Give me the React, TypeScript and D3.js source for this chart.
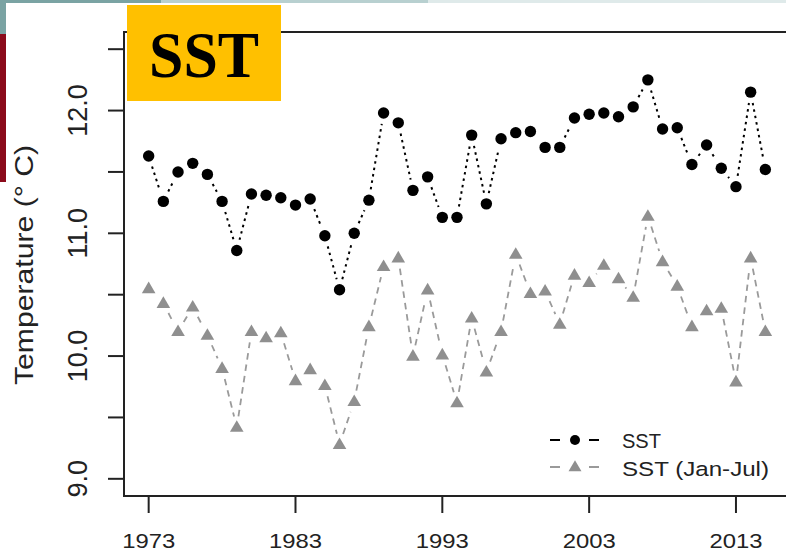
import React from 'react';
import * as d3 from 'd3';

const years = [
  1973, 1974, 1975, 1976, 1977, 1978, 1979, 1980, 1981, 1982,
  1983, 1984, 1985, 1986, 1987, 1988, 1989, 1990, 1991, 1992,
  1993, 1994, 1995, 1996, 1997, 1998, 1999, 2000, 2001, 2002,
  2003, 2004, 2005, 2006, 2007, 2008, 2009, 2010, 2011, 2012,
  2013, 2014, 2015,
];

const sst = [
  11.63, 11.26, 11.5, 11.57, 11.48, 11.26, 10.86, 11.32, 11.31, 11.29,
  11.23, 11.28, 10.98, 10.54, 11.0, 11.27, 11.98, 11.9, 11.35, 11.46,
  11.13, 11.13, 11.8, 11.24, 11.77, 11.82, 11.83, 11.7, 11.7, 11.94,
  11.97, 11.98, 11.95, 12.03, 12.25, 11.85, 11.86, 11.56, 11.72, 11.53,
  11.38, 12.15, 11.52,
];

const sstJanJul = [
  10.55, 10.43, 10.2, 10.4, 10.17, 9.9, 9.42, 10.2, 10.15, 10.19,
  9.8, 9.89, 9.76, 9.28, 9.63, 10.24, 10.73, 10.8, 10.0, 10.54,
  10.01, 9.62, 10.31, 9.87, 10.2, 10.83, 10.51, 10.53, 10.26, 10.66,
  10.6, 10.74, 10.63, 10.48, 11.14, 10.77, 10.57, 10.24, 10.37, 10.39,
  9.79, 10.8, 10.2,
];

const xTicks = [1973, 1983, 1993, 2003, 2013];
const yTicks = [9, 9.5, 10, 10.5, 11, 11.5, 12, 12.5];
const yLabelTicks = [9, 10, 11, 12];
const legendLabels = ['SST', 'SST (Jan-Jul)'];

const W = 786;
const H = 556;
const FONT = "'Liberation Sans', Arial, Helvetica, sans-serif";

const x = d3.scaleLinear().domain([1971.32, 2016.68]).range([124, 790]);
const y = d3.scaleLinear().domain([8.86, 12.64]).range([496, 32]);

function gappedSegments(vals: number[], gap: number): string {
  let d = '';
  for (let i = 0; i < vals.length - 1; i++) {
    const x1 = x(years[i]);
    const y1 = y(vals[i]);
    const x2 = x(years[i + 1]);
    const y2 = y(vals[i + 1]);
    const dx = x2 - x1;
    const dy = y2 - y1;
    const L = Math.hypot(dx, dy);
    if (L <= 2 * gap) continue;
    const ux = dx / L;
    const uy = dy / L;
    d += `M${x1 + ux * gap},${y1 + uy * gap}L${x2 - ux * gap},${y2 - uy * gap}`;
  }
  return d;
}

function tri(cx: number, cy: number, s = 1) {
  return `M${cx},${cy - 7 * s}L${cx + 6.8 * s},${cy + 4.6 * s}L${cx - 6.8 * s},${cy + 4.6 * s}Z`;
}

export default function App() {
  const axisColor = '#222';
  const grey = '#8f8f8f';
  return (
    <svg
      width={W}
      height={H}
      style={{ position: 'absolute', left: 0, top: 0, background: '#fff' }}
      xmlns="http://www.w3.org/2000/svg"
    >
      <rect x={0} y={0} width={W} height={H} fill="#fff" />
      {/* slide decoration */}
      <rect x={0} y={0} width={161} height={3} fill="#7aa3a3" />
      <rect x={161} y={0} width={267} height={3} fill="#b8d0d0" />
      <rect x={428} y={0} width={W - 428} height={3} fill="#dfeaea" />
      <rect x={0} y={0} width={6} height={34} fill="#7aa3a3" />
      <rect x={0} y={34} width={6} height={148} fill="#8b0b1b" />

      {/* plot frame */}
      <rect x={124} y={32} width={666} height={464} fill="none" stroke={axisColor} strokeWidth={2} />

      {/* y ticks */}
      {yTicks.map((t) => (
        <line key={t} x1={108} x2={124} y1={y(t)} y2={y(t)} stroke={axisColor} strokeWidth={2} />
      ))}
      {yLabelTicks.map((t) => (
        <text
          key={t}
          transform={`translate(87,${y(t)}) rotate(-90)`}
          textAnchor="middle"
          fontFamily={FONT}
          fontSize={27}
          fill="#222"
        >
          {t.toFixed(1)}
        </text>
      ))}
      <text
        transform={`translate(33,265) rotate(-90)`}
        textAnchor="middle"
        fontFamily={FONT}
        fontSize={25}
        fill="#222"
        textLength={240}
        lengthAdjust="spacingAndGlyphs"
      >
        Temperature (° C)
      </text>

      {/* x ticks */}
      {xTicks.map((t) => (
        <g key={t}>
          <line x1={x(t)} x2={x(t)} y1={496} y2={513} stroke={axisColor} strokeWidth={2} />
          <text
            x={x(t)}
            y={548}
            textAnchor="middle"
            fontFamily={FONT}
            fontSize={21}
            fill="#222"
            textLength={53}
            lengthAdjust="spacingAndGlyphs"
          >
            {t}
          </text>
        </g>
      ))}

      {/* Jan-Jul series */}
      <path d={gappedSegments(sstJanJul, 11)} fill="none" stroke="#9a9a9a" strokeWidth={1.8} strokeDasharray="6.5,5" />
      {years.map((yr, i) => (
        <path key={`t${yr}`} d={tri(x(yr), y(sstJanJul[i]))} fill={grey} />
      ))}

      {/* SST series */}
      <path d={gappedSegments(sst, 11)} fill="none" stroke="#000" strokeWidth={2} strokeDasharray="2.5,4" />
      {years.map((yr, i) => (
        <circle key={`c${yr}`} cx={x(yr)} cy={y(sst[i])} r={5.7} fill="#000" />
      ))}

      {/* legend */}
      <g>
        <line x1={550} x2={560} y1={440} y2={440} stroke="#000" strokeWidth={2} />
        <line x1={589} x2={599} y1={440} y2={440} stroke="#000" strokeWidth={2} />
        <circle cx={575} cy={440} r={5} fill="#000" />
        <text x={622} y={448} fontFamily={FONT} fontSize={20.5} fill="#222" textLength={39} lengthAdjust="spacingAndGlyphs">
          {legendLabels[0]}
        </text>
        <line x1={550} x2={560} y1={467} y2={467} stroke="#9a9a9a" strokeWidth={2} />
        <line x1={589} x2={599} y1={467} y2={467} stroke="#9a9a9a" strokeWidth={2} />
        <path d={tri(575, 467, 0.95)} fill={grey} />
        <text x={622} y={476} fontFamily={FONT} fontSize={20.5} fill="#222" textLength={147} lengthAdjust="spacingAndGlyphs">
          {legendLabels[1]}
        </text>
      </g>

      {/* title box */}
      <rect x={127} y={5} width={154} height={96} fill="#FFC000" />
      <text
        x={204}
        y={77}
        textAnchor="middle"
        fontFamily="'Liberation Serif', 'Times New Roman', serif"
        fontWeight="bold"
        fontSize={65}
        fill="#000"
        textLength={110}
        lengthAdjust="spacingAndGlyphs"
      >
        SST
      </text>
    </svg>
  );
}
